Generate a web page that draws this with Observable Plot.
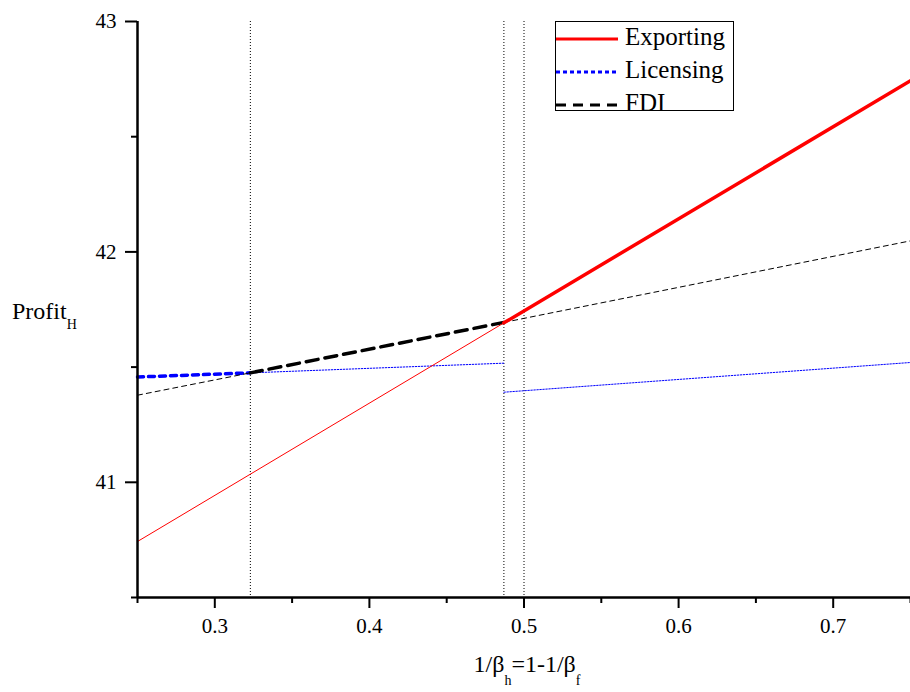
<!DOCTYPE html>
<html>
<head>
<meta charset="utf-8">
<script src="https://cdn.jsdelivr.net/npm/d3@7"></script>
<script src="https://cdn.jsdelivr.net/npm/@observablehq/plot@0.6"></script>
<style>
  html, body { margin: 0; padding: 0; background: #fff; }
  #chart { width: 910px; height: 692px; }
</style>
</head>
<body>
<div id="chart"></div>
<script>
// ---- data ----
const exportX = [0.25, 0.487, 0.75];
const exportY = [40.743, 41.692, 42.743];
const licX1 = [0.25, 0.323, 0.487];
const licY1 = [41.457, 41.475, 41.517];
const licX2 = [0.487, 0.75];
const licY2 = [41.391, 41.520];
const fdiX = [0.25, 0.323, 0.487, 0.75];
const fdiY = [41.378, 41.475, 41.694, 42.048];
const cutoffs = [0.323, 0.487, 0.5];
const xMajor = [0.3, 0.4, 0.5, 0.6, 0.7];
const xMinor = [0.25, 0.35, 0.45, 0.55, 0.65, 0.75];
const yMajor = [41, 42, 43];
const yMinor = [40.5, 41.5, 42.5];
const seriesNames = ["Exporting", "Licensing", "FDI"];

const pts = (xs, ys, i0, i1) => xs.slice(i0, i1 + 1).map((x, k) => ({x, y: ys[i0 + k]}));

const exThin = pts(exportX, exportY, 0, 1);
const exThick = pts(exportX, exportY, 1, 2);
const licThick = pts(licX1, licY1, 0, 1);
const licThin = pts(licX1, licY1, 1, 2);
const licThin2 = pts(licX2, licY2, 0, 1);
const fdiThin1 = pts(fdiX, fdiY, 0, 1);
const fdiThick = pts(fdiX, fdiY, 1, 2);
const fdiThin2 = pts(fdiX, fdiY, 2, 3);

const font = "'Liberation Serif', 'DejaVu Serif', serif";

const plot = Plot.plot({
  width: 910,
  height: 692,
  marginLeft: 137,
  marginRight: 0,
  marginTop: 21,
  marginBottom: 95,
  x: {domain: [0.25, 0.75]},
  y: {domain: [40.5, 43]},
  marks: [
    Plot.ruleX(cutoffs, {stroke: "#000", strokeWidth: 1, strokeDasharray: "1,2"}),
    // Licensing
    Plot.line(licThin, {x: "x", y: "y", stroke: "#0000ff", strokeWidth: 1, strokeDasharray: "1.5,1.5"}),
    Plot.line(licThin2, {x: "x", y: "y", stroke: "#0000ff", strokeWidth: 1, strokeDasharray: "1.5,1.5"}),
    Plot.line(licThick, {x: "x", y: "y", stroke: "#0000ff", strokeWidth: 3.5, strokeDasharray: "6,5"}),
    // FDI
    Plot.line(fdiThin1, {x: "x", y: "y", stroke: "#000", strokeWidth: 1, strokeDasharray: "5,4"}),
    Plot.line(fdiThin2, {x: "x", y: "y", stroke: "#000", strokeWidth: 1, strokeDasharray: "5,4"}),
    Plot.line(fdiThick, {x: "x", y: "y", stroke: "#000", strokeWidth: 3.5, strokeDasharray: "12,7"}),
    // Exporting
    Plot.line(exThin, {x: "x", y: "y", stroke: "#ff0000", strokeWidth: 1}),
    Plot.line(exThick, {x: "x", y: "y", stroke: "#ff0000", strokeWidth: 3.5}),
    // axes
    Plot.axisX(xMajor, {tickSize: 11, tickPadding: 10, strokeWidth: 2, tickFormat: d => d.toFixed(1), label: null}),
    Plot.axisX(xMinor, {tickSize: 6, strokeWidth: 2, tickFormat: () => "", label: null}),
    Plot.axisY(yMajor, {tickSize: 12, tickPadding: 9, strokeWidth: 2, tickFormat: d => String(d), label: null}),
    Plot.axisY(yMinor, {tickSize: 6, strokeWidth: 2, tickFormat: () => "", label: null}),
    Plot.ruleX([0.25], {stroke: "#000", strokeWidth: 2.5}),
    Plot.ruleY([40.5], {stroke: "#000", strokeWidth: 2.5})
  ]
});

document.getElementById("chart").appendChild(plot);

const svg = d3.select(plot);
svg.attr("font-family", font).style("font-family", font).style("color", "#000");

// tick labels: serif, larger
svg.selectAll("g[aria-label$='tick label']")
  .attr("font-family", font).attr("font-size", 21)
  .style("font-family", font).style("font-size", "21px").attr("fill", "#000");
svg.selectAll("g[aria-label$='tick label'] text")
  .style("font-family", font).style("font-size", "21px").attr("fill", "#000");

function label(x, y, anchor, parts, shift) {
  const t = svg.append("text")
    .attr("x", x).attr("y", y).attr("text-anchor", anchor)
    .attr("font-family", font).attr("font-size", 24).attr("fill", "#000")
    .style("font-family", font).style("fill", "#000");
  parts.forEach(([s, sub]) => {
    const ts = t.append("tspan").text(s).attr("fill", "#000").style("fill", "#000");
    if (sub) ts.attr("font-size", 14).style("font-size", "14px").attr("baseline-shift", shift);
  });
  return t;
}

// y-axis label: Profit_H
label(12, 319, "start", [["Profit", false], ["H", true]], "-10px");
// x-axis label: 1/β_h=1-1/β_f
label(527, 672, "middle", [["1/β", false], ["h", true], ["=1-1/β", false], ["f", true]], "-13px");

// legend
const lg = svg.append("g");
lg.append("rect").attr("x", 555.5).attr("y", 21.5).attr("width", 178).attr("height", 89)
  .attr("fill", "#fff").attr("stroke", "#000").attr("stroke-width", 1);
const legendStyles = [
  {stroke: "#ff0000", dash: null},
  {stroke: "#0000ff", dash: "4,3"},
  {stroke: "#000", dash: "10,7"}
];
seriesNames.forEach((name, i) => {
  const yy = 39 + i * 33;
  lg.append("line").attr("x1", 556).attr("x2", 618).attr("y1", yy).attr("y2", yy)
    .attr("stroke", legendStyles[i].stroke).attr("stroke-width", 3)
    .attr("stroke-dasharray", legendStyles[i].dash);
  lg.append("text").attr("x", 625).attr("y", yy + 6).attr("text-anchor", "start")
    .style("font-family", font).style("font-size", "25px").attr("fill", "#000").text(name);
});
</script>
</body>
</html>
